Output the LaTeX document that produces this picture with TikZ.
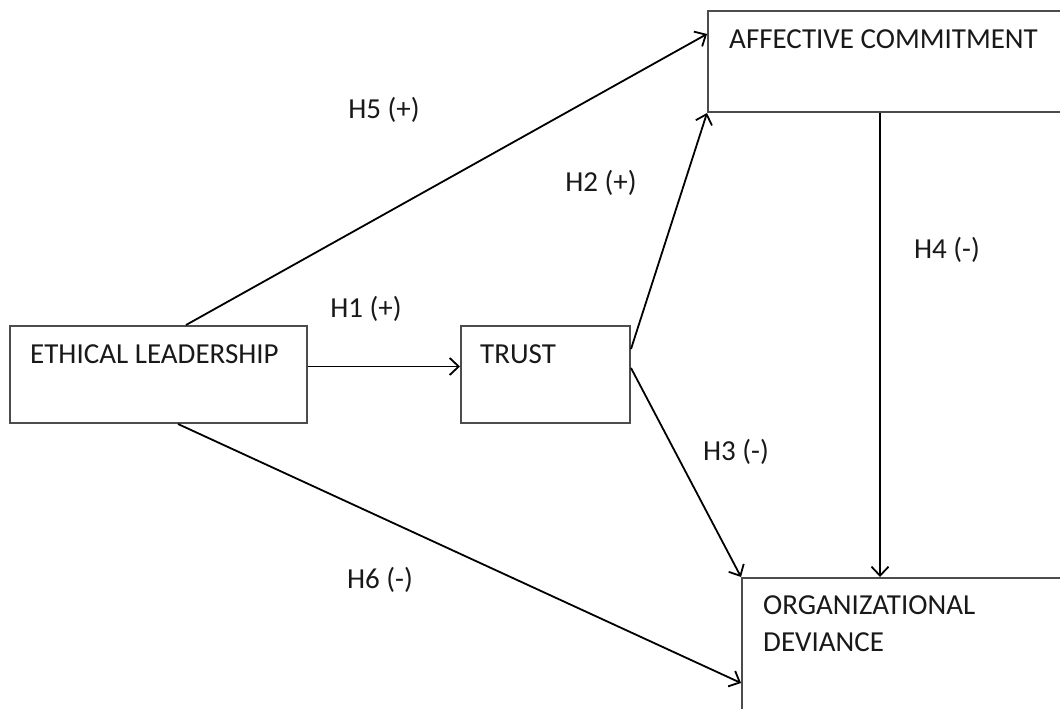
\documentclass[tikz,border=0pt]{standalone}
\usepackage{fontspec}
\setmainfont{Carlito}
\usetikzlibrary{positioning,arrows.meta,calc}
\colorlet{boxdraw}{black!70}
\colorlet{textdark}{black!90}

\begin{document}
\begin{tikzpicture}[x=1pt,y=-1pt,every node/.style={font=\fontsize{29}{35}\selectfont,text=textdark},
    blk/.style={draw=boxdraw,line width=2pt,anchor=north west,inner sep=0pt},
    txt/.style={anchor=west,inner sep=0pt},
    hyp/.style={inner sep=0pt},
    arr/.style={-{Straight Barb[length=9pt,width=17pt,line width=1.8pt]},line width=1.8pt,black}]
    \useasboundingbox (0,0) rectangle (1060,709);
    \clip (0,0) rectangle (1060,709);
    \node[blk,minimum width=297pt,minimum height=97pt] (el) at (9,325) {};
    \node[blk,minimum width=169pt,minimum height=97pt] (trust) at (460,325) {};
    \node[blk,minimum width=380pt,minimum height=101pt] (ac) at (707,10) {};
    \node[blk,minimum width=340pt,minimum height=160pt] (od) at (741,577) {};
    \node[txt] (eltxt) at (30,354) {ETHICAL LEADERSHIP};
    \node[txt] (trusttxt) at (480,354) {TRUST};
    \node[txt] (actxt) at (729,39) {AFFECTIVE COMMITMENT};
    \node[txt,align=left,text depth=0pt] (odtxt) at (763,624) {ORGANIZATIONAL\\[2pt]DEVIANCE};
    \node[hyp] (h5) at (384,110) {H5 (+)};
    \node[hyp] (h2) at (601,183) {H2 (+)};
    \node[hyp] (h1) at (366,309) {H1 (+)};
    \node[hyp] (h4) at (947,250) {H4 (-)};
    \node[hyp] (h3) at (736,452) {H3 (-)};
    \node[hyp] (h6) at (380,580) {H6 (-)};
    \draw[arr] ([xshift=177pt]el.north west) -- ([yshift=-24pt]ac.north west);
    \draw[arr] ([yshift=8pt]el.east) -- ([yshift=8pt]trust.west);
    \draw[arr] ([yshift=-24pt]trust.north east) -- (ac.south west);
    \draw[arr] ([yshift=-43pt]trust.north east) -- (od.north west);
    \draw[arr] ([xshift=173pt]ac.south west) -- ([xshift=173pt]ac.south west |- od.north);
    \draw[arr] ([xshift=169pt]el.south west) -- ([yshift=-106pt]od.north west);
\end{tikzpicture}
\end{document}
